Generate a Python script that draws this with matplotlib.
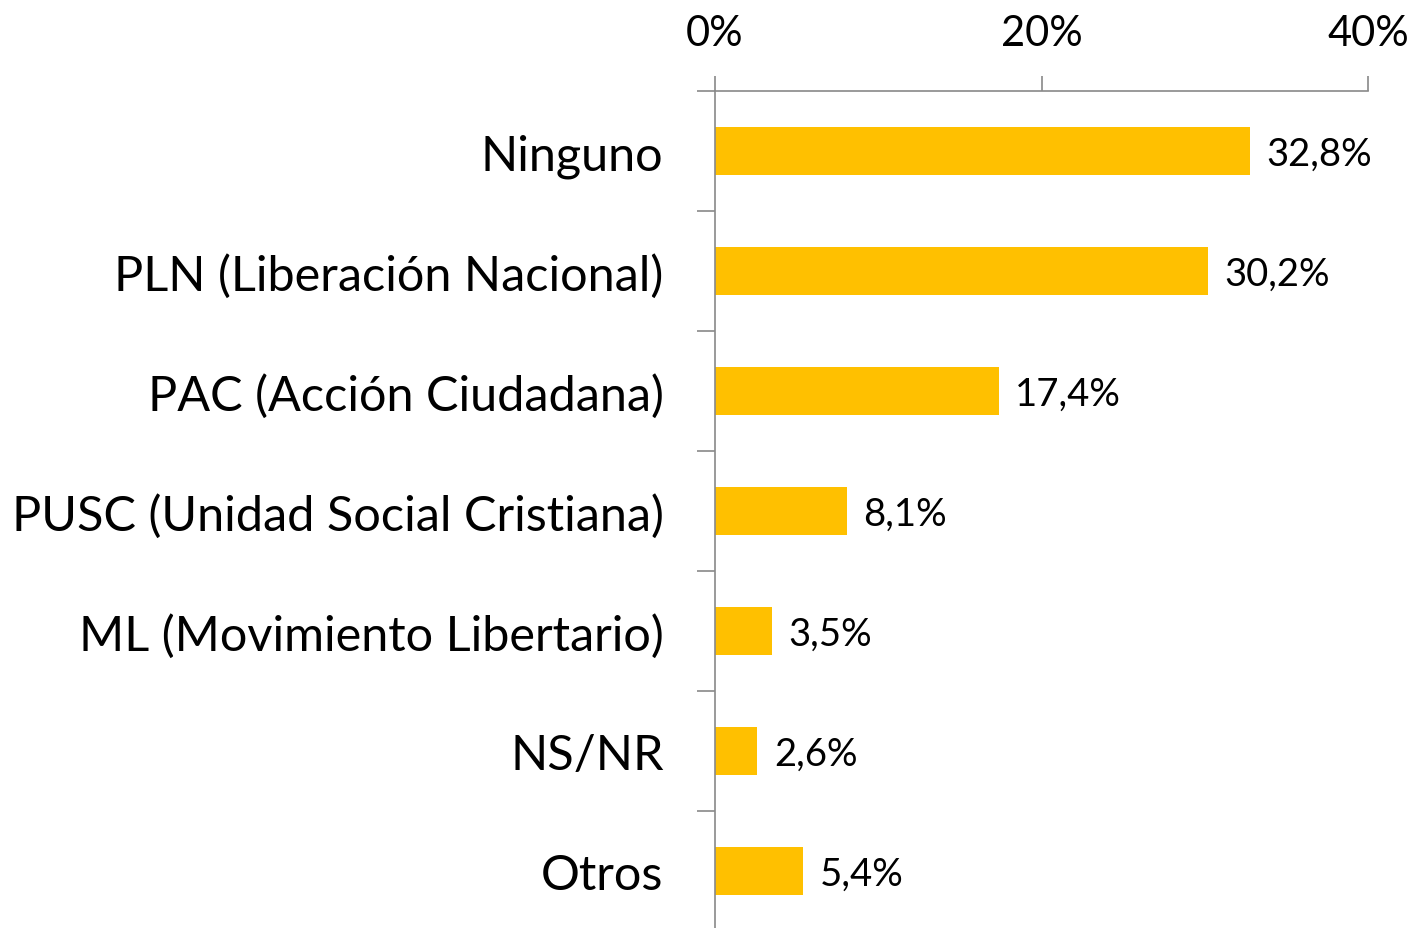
import matplotlib.pyplot as plt
from matplotlib.ticker import FixedLocator

plt.rcParams['font.family'] = ['Lato', 'DejaVu Sans']

partidos = ["Ninguno", "PLN (Liberación Nacional)", "PAC (Acción Ciudadana)",
            "PUSC (Unidad Social Cristiana)", "ML (Movimiento Libertario)",
            "NS/NR", "Otros"]
porcentajes = [32.8, 30.2, 17.4, 8.1, 3.5, 2.6, 5.4]
ticks_x = [0, 20, 40]

fig = plt.figure(figsize=(14.14, 9.29), dpi=100)
ax = fig.add_axes([715 / 1414, -3 / 929, (1368 - 715) / 1414, (932 - 92) / 929])

pos = list(range(len(partidos)))
ax.barh(pos, porcentajes, height=0.4, color='#FFC000')

for p, v in zip(pos, porcentajes):
    ax.text(v + 1.0, p + 0.02, f"{v:.1f}%".replace('.', ','), va='center', ha='left',
            fontsize=27.5, color='black')

ax.set_xlim(0, 40)
ax.set_ylim(len(partidos) - 0.5, -0.5)
ax.xaxis.tick_top()
ax.set_xticks(ticks_x)
ax.set_xticklabels([f"{t}%" for t in ticks_x], fontsize=30)
ax.tick_params(axis='x', direction='out', length=11, width=1.2, color='#898989', pad=17)

ax.set_yticks(pos)
ax.set_yticklabels(partidos, fontsize=35)
ax.tick_params(axis='y', which='major', length=0, pad=37)
ax.yaxis.set_minor_locator(FixedLocator([p - 0.5 for p in pos]))
ax.tick_params(axis='y', which='minor', direction='out', length=13, width=1.2, color='#898989')

for side in ['right', 'bottom']:
    ax.spines[side].set_visible(False)
for side in ['left', 'top']:
    ax.spines[side].set_color('#898989')
    ax.spines[side].set_linewidth(1.2)

fig.savefig('out.png', dpi=100)
